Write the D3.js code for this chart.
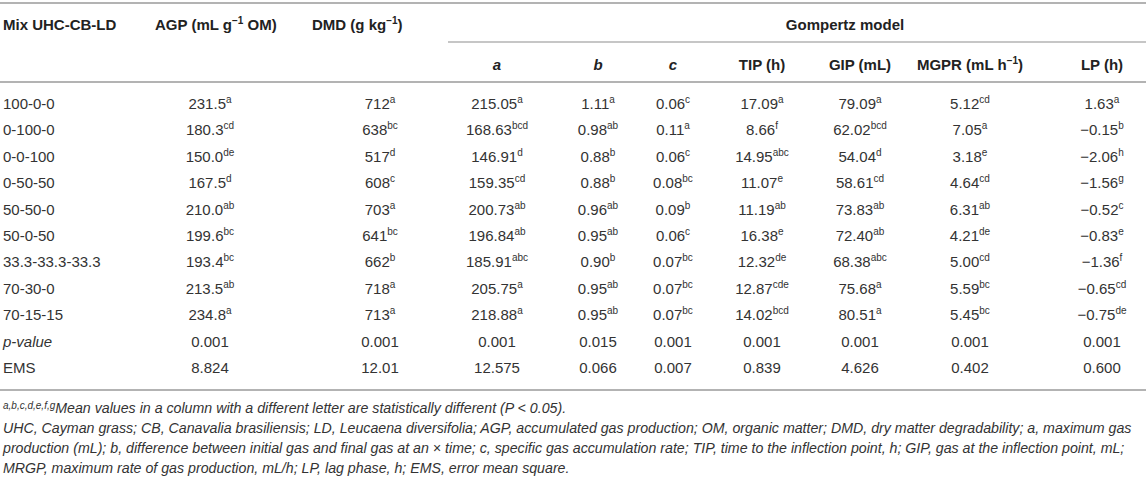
<!DOCTYPE html>
<html>
<head>
<meta charset="utf-8">
<script src="https://cdn.jsdelivr.net/npm/d3@7"></script>
<style>
  body { margin: 0; background: #fff; }
  svg text { font-family: "Liberation Sans", Arial, Helvetica, sans-serif; fill: #333; }
</style>
</head>
<body>
<div id="table"></div>
<script>
const width = 1146,
  height = 481;

// row labels
const mixes = ["100-0-0", "0-100-0", "0-0-100", "0-50-50", "50-50-0", "50-0-50",
  "33.3-33.3-33.3", "70-30-0", "70-15-15", "p-value", "EMS"];

// columns: values and significance letters (last two rows: p-value, EMS)
const agpVal = ["231.5", "180.3", "150.0", "167.5", "210.0", "199.6", "193.4", "213.5", "234.8", "0.001", "8.824"];
const agpSig = ["a", "cd", "de", "d", "ab", "bc", "bc", "ab", "a", "", ""];
const dmdVal = ["712", "638", "517", "608", "703", "641", "662", "718", "713", "0.001", "12.01"];
const dmdSig = ["a", "bc", "d", "c", "a", "bc", "b", "a", "a", "", ""];
const aVal = ["215.05", "168.63", "146.91", "159.35", "200.73", "196.84", "185.91", "205.75", "218.88", "0.001", "12.575"];
const aSig = ["a", "bcd", "d", "cd", "ab", "ab", "abc", "a", "a", "", ""];
const bVal = ["1.11", "0.98", "0.88", "0.88", "0.96", "0.95", "0.90", "0.95", "0.95", "0.015", "0.066"];
const bSig = ["a", "ab", "b", "b", "ab", "ab", "b", "ab", "ab", "", ""];
const cVal = ["0.06", "0.11", "0.06", "0.08", "0.09", "0.06", "0.07", "0.07", "0.07", "0.001", "0.007"];
const cSig = ["c", "a", "c", "bc", "b", "c", "bc", "bc", "bc", "", ""];
const tipVal = ["17.09", "8.66", "14.95", "11.07", "11.19", "16.38", "12.32", "12.87", "14.02", "0.001", "0.839"];
const tipSig = ["a", "f", "abc", "e", "ab", "e", "de", "cde", "bcd", "", ""];
const gipVal = ["79.09", "62.02", "54.04", "58.61", "73.83", "72.40", "68.38", "75.68", "80.51", "0.001", "4.626"];
const gipSig = ["a", "bcd", "d", "cd", "ab", "ab", "abc", "a", "a", "", ""];
const mgprVal = ["5.12", "7.05", "3.18", "4.64", "6.31", "4.21", "5.00", "5.59", "5.45", "0.001", "0.402"];
const mgprSig = ["cd", "a", "e", "cd", "ab", "de", "cd", "bc", "bc", "", ""];
const lpVal = ["1.63", "\u22120.15", "\u22122.06", "\u22121.56", "\u22120.52", "\u22120.83", "\u22121.36", "\u22120.65", "\u22120.75", "0.001", "0.600"];
const lpSig = ["a", "b", "h", "g", "c", "e", "f", "cd", "de", "", ""];

// column keys
const colKeys = ["agp", "dmd", "a", "b", "c", "tip", "gip", "mgpr", "lp"];
const colVals = [agpVal, dmdVal, aVal, bVal, cVal, tipVal, gipVal, mgprVal, lpVal];
const colSigs = [agpSig, dmdSig, aSig, bSig, cSig, tipSig, gipSig, mgprSig, lpSig];

// header texts, second item 1 = superscript
const topHeaders = [
  { key: "mix", parts: [["Mix UHC-CB-LD"]] },
  { key: "agp", parts: [["AGP (mL g"], ["\u22121", 1], [" OM)"]] },
  { key: "dmd", parts: [["DMD (g kg"], ["\u22121", 1], [")"]] },
];
const gompertzTitle = "Gompertz model";
const subHeaders = [
  { key: "a", parts: [["a"]], italic: true },
  { key: "b", parts: [["b"]], italic: true },
  { key: "c", parts: [["c"]], italic: true },
  { key: "tip", parts: [["TIP (h)"]] },
  { key: "gip", parts: [["GIP (mL)"]] },
  { key: "mgpr", parts: [["MGPR (mL h"], ["\u22121", 1], [")"]] },
  { key: "lp", parts: [["LP (h)"]] },
];

const footLetters = "a,b,c,d,e,f,g";
const footnotes = [
  "Mean values in a column with a different letter are statistically different (P < 0.05).",
  "UHC, Cayman grass; CB, Canavalia brasiliensis; LD, Leucaena diversifolia; AGP, accumulated gas production; OM, organic matter; DMD, dry matter degradability; a, maximum gas",
  "production (mL); b, difference between initial gas and final gas at an \u00d7 time; c, specific gas accumulation rate; TIP, time to the inflection point, h; GIP, gas at the inflection point, mL;",
  "MRGP, maximum rate of gas production, mL/h; LP, lag phase, h; EMS, error mean square.",
];

const svg = d3.select("#table")
  .append("svg")
  .attr("width", width)
  .attr("height", height);

const y = d3.scalePoint().domain(mixes).range([104, 368]);
// centre of each value column
const xCol = d3.scaleOrdinal().domain(colKeys)
  .range([210, 380, 497, 598, 673, 762, 860, 970, 1102]);
// header positions
const xHead = d3.scaleOrdinal().domain(["mix", "agp", "dmd"]).range([3, 155, 312]);

const lineColor = "#b3b3b3";
const fs = 15;

function richText(g, parts, x, yy, anchor, bold, italic) {
  const t = g.append("text")
    .attr("x", x).attr("y", yy)
    .attr("text-anchor", anchor)
    .style("font-size", fs + "px")
    .style("font-weight", bold ? "bold" : "normal")
    .style("font-style", italic ? "italic" : "normal")
    .style("fill", "#222");
  let raised = false;
  parts.forEach(p => {
    const s = t.append("tspan").text(p[0]);
    if (p[1] && !raised) { s.attr("dy", -6).style("font-size", "10px"); raised = true; }
    else if (!p[1] && raised) { s.attr("dy", 6); raised = false; }
  });
  return t;
}

// rules
svg.append("line").attr("x1", 0).attr("x2", width).attr("y1", 3).attr("y2", 3)
  .attr("stroke", lineColor).attr("stroke-width", 2);
svg.append("line").attr("x1", 448).attr("x2", width).attr("y1", 42).attr("y2", 42)
  .attr("stroke", lineColor).attr("stroke-width", 1.5);
svg.append("line").attr("x1", 0).attr("x2", width).attr("y1", 82).attr("y2", 82)
  .attr("stroke", lineColor).attr("stroke-width", 2);
svg.append("line").attr("x1", 0).attr("x2", width).attr("y1", 390).attr("y2", 390)
  .attr("stroke", lineColor).attr("stroke-width", 2);

// headers
const head = svg.append("g");
topHeaders.forEach(h => richText(head, h.parts, xHead(h.key), 30, "start", true, false));
richText(head, [[gompertzTitle]], 845, 30, "middle", true, false);
subHeaders.forEach(h => richText(head, h.parts, xCol(h.key), 70, "middle", true, h.italic));

// row labels
svg.append("g").selectAll("text")
  .data(mixes)
  .join("text")
  .attr("x", 3)
  .attr("y", d => y(d) + 5)
  .style("font-size", fs + "px")
  .style("font-style", d => d === "p-value" ? "italic" : "normal")
  .text(d => d);

// cells
const cells = [];
colKeys.forEach((k, ci) => {
  mixes.forEach((m, ri) => {
    cells.push({ col: k, row: m, val: colVals[ci][ri], sig: colSigs[ci][ri] });
  });
});

const cell = svg.append("g").selectAll("text")
  .data(cells)
  .join("text")
  .attr("x", d => xCol(d.col))
  .attr("y", d => y(d.row) + 5)
  .attr("text-anchor", "middle")
  .style("font-size", fs + "px");

cell.append("tspan").text(d => d.val);
cell.filter(d => d.sig)
  .append("tspan")
  .attr("dy", -6)
  .style("font-size", "10px")
  .text(d => d.sig);

// footnotes
const foot = svg.append("g")
  .style("font-style", "italic");
const f0 = foot.append("text")
  .attr("x", 3).attr("y", 413)
  .style("font-size", "14.2px");
f0.append("tspan").text(footLetters).attr("dy", -4).style("font-size", "10px");
f0.append("tspan").text(footnotes[0]).attr("dy", 4);
foot.selectAll("text.fn")
  .data(footnotes.slice(1))
  .join("text")
  .attr("class", "fn")
  .attr("x", 3)
  .attr("y", (d, i) => 433 + i * 20)
  .style("font-size", "14.2px")
  .text(d => d);
</script>
</body>
</html>
